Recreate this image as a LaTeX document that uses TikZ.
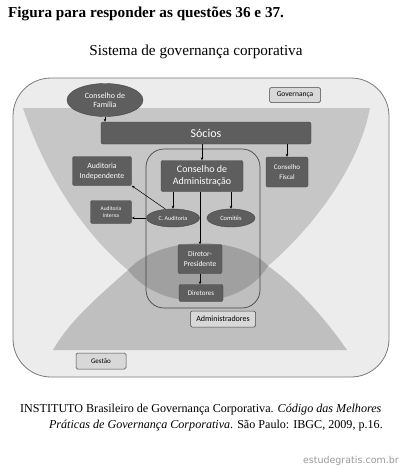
\documentclass[tikz,border=0pt]{standalone}
\usepackage{fontspec}
\setmainfont{Liberation Serif}
\newfontfamily\calfont{Carlito}
\newfontfamily\wmfont{DejaVu Sans}
\usetikzlibrary{arrows.meta,shapes.geometric}
\definecolor{darkbox}{HTML}{5E5E5E}
\definecolor{boxline}{HTML}{454545}
\definecolor{lightbox}{HTML}{D8D8D8}
\definecolor{framefill}{HTML}{ECECEC}
\definecolor{frameline}{HTML}{7A7A7A}
\begin{document}
\begin{tikzpicture}[x=1pt,y=-1pt,
  box/.style={draw=boxline, fill=darkbox, rounded corners=2pt, text=white, align=center, inner sep=0pt, line width=0.4pt},
  ell/.style={ellipse, draw=boxline, fill=darkbox, text=white, align=center, inner sep=0pt, line width=0.4pt},
  lbl/.style={draw=boxline, fill=lightbox, rounded corners=1.5pt, align=center, inner sep=0pt, line width=0.5pt},
  arr/.style={-{Stealth[length=3pt,width=2.6pt]}, line width=0.5pt, black}]
\fill[white] (0,0) rectangle (401,467);
\useasboundingbox (0,0) rectangle (401,467);

% texts
\node[anchor=base west, inner sep=0pt, font=\bfseries\fontsize{15.2}{17}\selectfont] (title) at (8,17.5) {Figura para responder as questões 36 e 37.};
\node[anchor=base, inner sep=0pt, font=\fontsize{15.2}{17}\selectfont] (sub) at (196,55) {Sistema de governança corporativa};
\node[anchor=base west, inner sep=0pt, font=\fontsize{12.1}{14}\selectfont] (cit1) at (20,412) {INSTITUTO Brasileiro de Governança Corporativa. \textit{Código das Melhores}};
\node[anchor=base east, inner sep=0pt, font=\fontsize{12.1}{14}\selectfont] (cit2) at (383,428) {\textit{Práticas de Governança Corporativa}. São Paulo: IBGC, 2009, p.16.};
\node[anchor=base east, inner sep=0pt, text=black!40, font=\wmfont\fontsize{9.5}{11}\selectfont] (wm) at (399,463) {estudegratis.com.br};

% frame
\draw[fill=framefill, draw=frameline, line width=0.8pt, rounded corners=38pt] (13,78) rectangle (389,377);
% upper (governance) shape
\fill[black, fill opacity=0.16] (23,108) -- (370,108)
  .. controls (358,170) and (310,230) .. (268,266)
  .. controls (240,312) and (160,312) .. (128,270)
  .. controls (85,235) and (45,175) .. (23,108) -- cycle;
% lower (management) shape
\fill[black, fill opacity=0.19] (53,350) -- (347,350)
  .. controls (325,318) and (295,285) .. (268,266)
  .. controls (240,235) and (160,235) .. (128,270)
  .. controls (100,295) and (70,320) .. (53,350) -- cycle;
% administrators frame
\draw[draw=boxline, line width=0.7pt, rounded corners=18pt] (146,149) rectangle (260,308);

% nodes
\node[ell, minimum width=76pt, minimum height=33pt, font={\calfont\fontsize{8}{9.5}\selectfont}] (fam) at (105,100) {Conselho de\\Família};
\node[lbl, minimum width=51pt, minimum height=15pt, font={\calfont\fontsize{7.5}{9}\selectfont}] (gov) at (295,95) {Governança};
\node[box, minimum width=210pt, minimum height=22pt, font={\calfont\fontsize{12}{14}\selectfont}] (soc) at (206,133) {Sócios};
\node[box, minimum width=59pt, minimum height=29pt, font={\calfont\fontsize{7.8}{10}\selectfont}] (audind) at (102,171) {Auditoria\\Independente};
\node[box, minimum width=82pt, minimum height=31pt, font={\calfont\fontsize{10}{12}\selectfont}] (cadm) at (202,176) {Conselho de\\Administração};
\node[box, minimum width=42pt, minimum height=30pt, font={\calfont\fontsize{7}{10}\selectfont}] (cfis) at (287,172) {Conselho\\Fiscal};
\node[box, minimum width=41pt, minimum height=23pt, font={\calfont\fontsize{5.5}{7.5}\selectfont}] (audint) at (111,212) {Auditoria\\Interna};
\node[ell, minimum width=53pt, minimum height=18pt, font={\calfont\fontsize{6}{7}\selectfont}] (caud) at (173,218) {C. Auditoria};
\node[ell, minimum width=48pt, minimum height=18pt, font={\calfont\fontsize{6.5}{7.5}\selectfont}] (com) at (231,218) {Comitês};
\node[box, minimum width=44pt, minimum height=29pt, font={\calfont\fontsize{7.5}{10}\selectfont}] (dp) at (200,259) {Diretor-\\Presidente};
\node[box, minimum width=44pt, minimum height=17pt, font={\calfont\fontsize{7}{8}\selectfont}] (dir) at (201,293) {Diretores};
\node[lbl, minimum width=65pt, minimum height=16pt, font={\calfont\fontsize{8}{9}\selectfont}] (adm) at (223,319) {Administradores};
\node[lbl, minimum width=50pt, minimum height=16pt, font={\calfont\fontsize{7}{8}\selectfont}] (ges) at (101,361) {Gestão};

% connectors
\draw[arr] (fam.south) -- (fam.south |- soc.north);
\draw[arr] (cadm.north |- soc.south) -- (cadm.north);
\draw[arr] (cfis.north |- soc.south) -- (cfis.north);
\draw[arr] (caud.north |- cadm.south) -- (caud.north);
\draw[arr] (com.north |- cadm.south) -- (com.north);
\draw[arr] (dp.north |- cadm.south) -- (dp.north);
\draw[arr] (dp.south) -- (dp.south |- dir.north);
\draw[arr] (caud.130) -- (audind.south east);
\draw[arr] (caud.west) -- (caud.west -| audint.east);
\end{tikzpicture}
\end{document}
